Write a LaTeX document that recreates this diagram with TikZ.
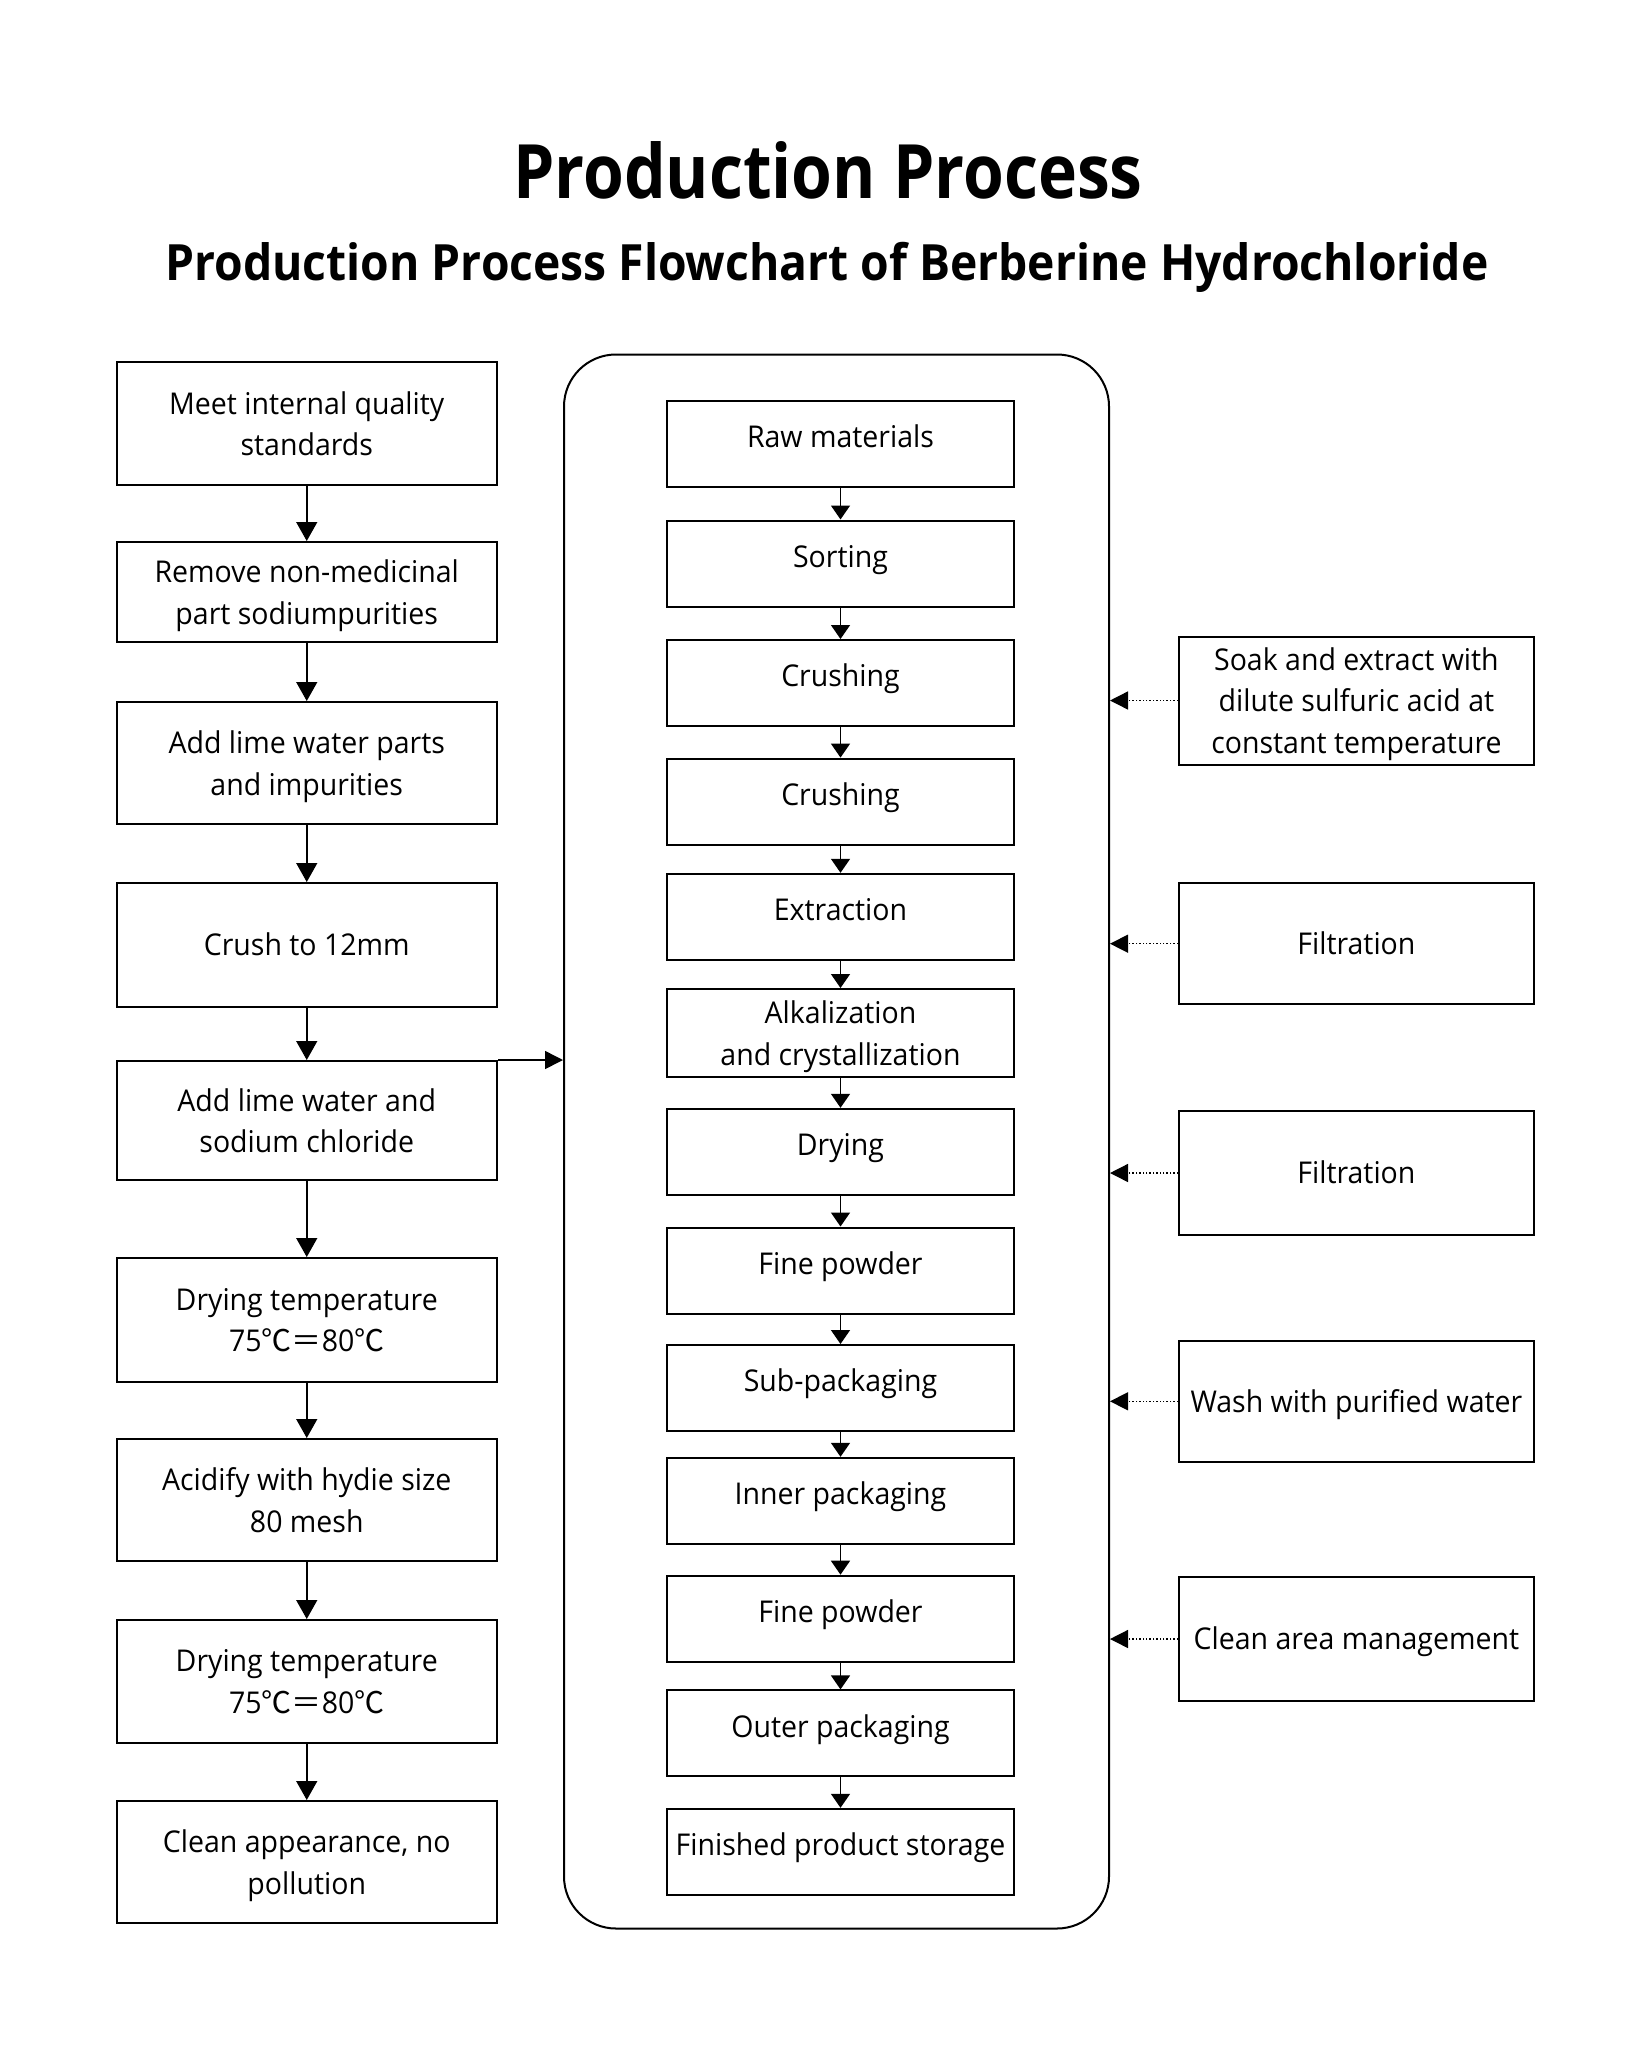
\documentclass[tikz,border=0pt]{standalone}
\usepackage{fontspec}
\setmainfont{Open Sans}
\newfontfamily\bodyfam[FakeStretch=0.95]{Open Sans}
\newfontfamily\titlefam[FakeStretch=0.88]{Open Sans}
\newfontfamily\subtitlefam[FakeStretch=0.925]{Open Sans}
\newfontfamily\cjk{Noto Sans CJK SC}
\usetikzlibrary{arrows.meta}
\newcommand{\tempC}{75{\cjk ℃＝}80{\cjk ℃}}
\tikzset{
  box/.style={draw, line width=1pt, align=center, inner sep=0pt,
    font=\bodyfam\fontsize{15}{20.6}\selectfont, text depth=0pt},
  one/.style={text height=10.7pt},
  lbox/.style={box, minimum width=190.25pt},
  mbox/.style={box, minimum width=173.5pt, minimum height=43pt},
  mone/.style={one, text depth=7pt},
  rbox/.style={box, minimum width=177.35pt},
  arr/.style={line width=0.75pt, -{Triangle[length=9.5pt,width=10.5pt]}},
  marr/.style={line width=0.75pt, -{Triangle[length=7pt,width=9.5pt]}},
  sarr/.style={line width=0.75pt, -{Triangle[length=9pt,width=9pt]}},
  darr/.style={line width=0.7pt, densely dotted, -{Triangle[length=9pt,width=9pt]}},
}
\begin{document}
\begin{tikzpicture}[x=0.5pt,y=-0.5pt]
\useasboundingbox (0,0) rectangle (1648,2060);
% titles
\node[anchor=base, inner sep=0pt, font=\titlefam\bfseries\fontsize{37.5}{40}\selectfont] (title) at (828,199) {Production Process};
\node[anchor=base, inner sep=0pt, font=\subtitlefam\bfseries\fontsize{25}{28}\selectfont] (subtitle) at (827,280) {Production Process Flowchart of Berberine Hydrochloride};
% big rounded container
\node[draw, line width=1pt, rounded corners=26pt, minimum width=272.5pt, minimum height=787pt, inner sep=0pt] (big) at (836.5,1141.5) {};
% left column
\node[lbox, minimum height=61.5pt] (L1) at (306.75,423.5) {Meet internal quality\\standards};
\node[lbox, minimum height=50pt]   (L2) at (306.75,592) {Remove non-medicinal\\part sodiumpurities};
\node[lbox, minimum height=61pt]   (L3) at (306.75,763) {Add lime water parts\\and impurities};
\node[lbox, one, minimum height=62pt] (L4) at (306.75,945) {Crush to 12mm};
\node[lbox, minimum height=59.5pt] (L5) at (306.75,1120.5) {Add lime water and\\sodium chloride};
\node[lbox, minimum height=62pt]   (L6) at (306.75,1320) {Drying temperature\\\tempC};
\node[lbox, minimum height=61pt]   (L7) at (306.75,1500) {Acidify with hydie size\\80 mesh};
\node[lbox, minimum height=61.5pt] (L8) at (306.75,1681.5) {Drying temperature\\\tempC};
\node[lbox, minimum height=61pt]   (L9) at (306.75,1862) {Clean appearance, no\\pollution};
\foreach \a/\b in {L1/L2,L2/L3,L3/L4,L4/L5,L5/L6,L6/L7,L7/L8,L8/L9}
  \draw[arr] (\a.south) -- (\b.north);
\draw[sarr] (L5.north east) -- (L5.north east -| big.west);
% middle column
\node[mbox, mone] (M1) at (840.5,443.8) {Raw materials};
\node[mbox, mone] (M2) at (840.5,563.5) {Sorting};
\node[mbox, mone] (M3) at (840.5,683) {Crushing};
\node[mbox, mone] (M4) at (840.5,801.6) {Crushing};
\node[mbox, mone] (M5) at (840.5,916.8) {Extraction};
\node[mbox, minimum height=44pt] (M6) at (840.5,1033) {Alkalization\\and crystallization};
\node[mbox, mone] (M7) at (840.5,1151.8) {Drying};
\node[mbox, mone] (M8) at (840.5,1270.5) {Fine powder};
\node[mbox, mone] (M9) at (840.5,1388) {Sub-packaging};
\node[mbox, mone] (M10) at (840.5,1500.8) {Inner packaging};
\node[mbox, mone] (M11) at (840.5,1618.7) {Fine powder};
\node[mbox, mone] (M12) at (840.5,1733.4) {Outer packaging};
\node[mbox, mone] (M13) at (840.5,1851.8) {Finished product storage};
\foreach \a/\b in {M1/M2,M2/M3,M3/M4,M4/M5,M5/M6,M6/M7,M7/M8,M8/M9,M9/M10,M10/M11,M11/M12,M12/M13}
  \draw[marr] (\a.south) -- (\b.north);
% right column
\node[rbox, minimum height=64pt] (R1) at (1356.4,700.5) {Soak and extract with\\dilute sulfuric acid at\\constant temperature};
\node[rbox, one, minimum height=60.75pt] (R2) at (1356.4,943.7) {Filtration};
\node[rbox, one, minimum height=62pt] (R3) at (1356.4,1173) {Filtration};
\node[rbox, one, minimum height=60.3pt] (R4) at (1356.4,1401.3) {Wash with purified water};
\node[rbox, one, minimum height=62pt] (R5) at (1356.4,1639) {Clean area management};
\foreach \r in {R1,R2,R3,R4,R5}
  \draw[darr] (\r.west) -- (\r.west -| big.east);
\end{tikzpicture}
\end{document}
